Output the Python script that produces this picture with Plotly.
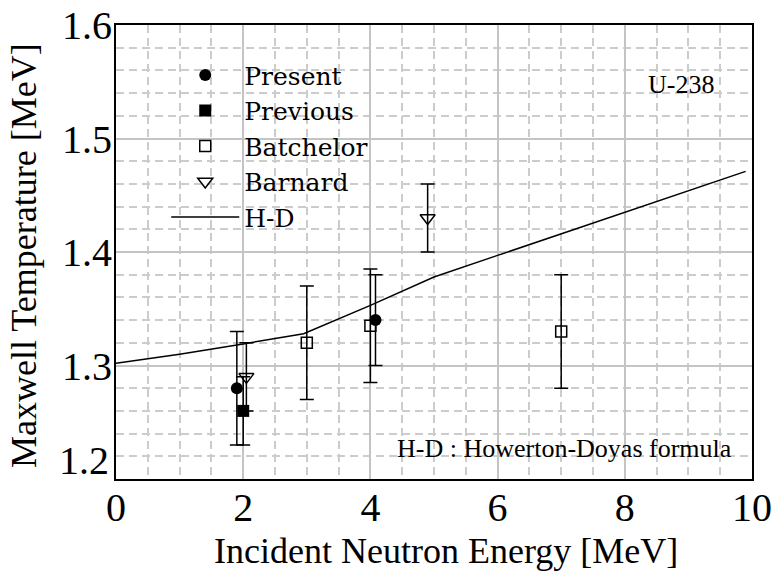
import plotly.graph_objects as go

# Maxwellian temperature of U-238 prompt fission neutrons vs. incident energy
present_e = [1.9, 4.08]
present_t = [1.28, 1.34]
present_err = [0.05, 0.04]

previous_e = [2.0]
previous_t = [1.26]
previous_err = [0.03]

batchelor_e = [3.0, 4.0, 7.0]
batchelor_t = [1.32, 1.335, 1.33]
batchelor_err = [0.05, 0.05, 0.05]

barnard_e = [2.05, 4.9]
barnard_t = [1.29, 1.43]
barnard_err = [0.03, 0.03]

# Howerton-Doyas systematics
hd_e = [0, 1, 2, 2.95, 4, 5, 6, 7, 8, 9, 9.9]
hd_t = [1.302, 1.310, 1.319, 1.328, 1.353, 1.378, 1.397, 1.416, 1.435, 1.454, 1.471]

# axis ticks; the lowest temperature label sits just above the frame corner
x_ticks = [0, 2, 4, 6, 8, 10]
y_ticks = [1.3, 1.4, 1.5, 1.6]
y_floor_label = "1.2"

FONT = "Times New Roman, Liberation Serif, serif"
LEGEND_FONT = "DejaVu Serif, Liberation Serif, serif"
INK = "black"
TICK_SIZE = 40


def err(vals):
    return dict(type="data", array=vals, visible=True, color=INK, thickness=1.5, width=7)


fig = go.Figure()
fig.add_trace(go.Scatter(
    x=present_e, y=present_t, mode="markers", name="Present",
    marker=dict(symbol="circle", size=12, color=INK),
    error_y=err(present_err)))
fig.add_trace(go.Scatter(
    x=previous_e, y=previous_t, mode="markers", name="Previous",
    marker=dict(symbol="square", size=12, color=INK),
    error_y=err(previous_err)))
fig.add_trace(go.Scatter(
    x=batchelor_e, y=batchelor_t, mode="markers", name="Batchelor",
    marker=dict(symbol="square-open", size=11, color=INK, line=dict(width=1.5)),
    error_y=err(batchelor_err)))
fig.add_trace(go.Scatter(
    x=barnard_e, y=barnard_t, mode="markers", name="Barnard",
    marker=dict(symbol="triangle-down-open", size=13, color=INK, line=dict(width=1.5)),
    error_y=err(barnard_err)))
fig.add_trace(go.Scatter(
    x=hd_e, y=hd_t, mode="lines", name="H-D",
    line=dict(color=INK, width=1.5)))

grid_solid = "#c4c4c4"
grid_dash = "#cccccc"

fig.update_layout(
    width=774, height=573,
    margin=dict(l=116, r=22, t=25, b=94, autoexpand=False),
    paper_bgcolor="white", plot_bgcolor="white",
    font=dict(family=FONT, color=INK),
    showlegend=True,
    legend=dict(
        x=0.079, y=0.94, xanchor="left", yanchor="top",
        bgcolor="rgba(0,0,0,0)", font=dict(family=LEGEND_FONT, size=25, color=INK),
        itemwidth=68, tracegroupgap=0,
    ),
    xaxis=dict(
        range=[0, 10], tickvals=x_ticks, automargin=False,
        showgrid=True, gridcolor=grid_solid, gridwidth=1.5,
        minor=dict(dtick=0.5, tick0=0, showgrid=True, gridcolor=grid_dash,
                   gridwidth=1.5, griddash="8px,5px"),
        showline=True, mirror=True, linecolor=INK, linewidth=2,
        ticks="", zeroline=False, ticklabelstandoff=-8,
        tickfont=dict(family=FONT, size=TICK_SIZE),
    ),
    yaxis=dict(
        range=[1.2, 1.6], tickvals=y_ticks, tickformat=".1f", automargin=False,
        showgrid=True, gridcolor=grid_solid, gridwidth=1.5,
        minor=dict(dtick=0.02, tick0=1.2, showgrid=True, gridcolor=grid_dash,
                   gridwidth=1.5, griddash="8px,5px"),
        showline=True, mirror=True, linecolor=INK, linewidth=2,
        ticks="", zeroline=False, ticklabelstandoff=-6,
        tickfont=dict(family=FONT, size=TICK_SIZE),
    ),
    annotations=[
        dict(text=y_floor_label, x=0, y=1.2, xref="paper", yref="y",
             xanchor="right", yanchor="bottom", xshift=-5, yshift=-6,
             showarrow=False, font=dict(family=FONT, size=TICK_SIZE, color=INK)),
        dict(text="Incident Neutron Energy [MeV]", x=0.519, y=-0.159,
             xref="paper", yref="paper", xanchor="center", yanchor="middle",
             showarrow=False, font=dict(family=FONT, size=36, color=INK)),
        dict(text="Maxwell Temperature [MeV]", x=-0.145, y=0.493, textangle=-90,
             xref="paper", yref="paper", xanchor="center", yanchor="middle",
             showarrow=False, font=dict(family=FONT, size=36, color=INK)),
        dict(text="U-238", x=0.944, y=0.868, xref="paper", yref="paper",
             xanchor="right", yanchor="middle", showarrow=False,
             font=dict(family=FONT, size=26, color=INK)),
        dict(text="H-D : Howerton-Doyas formula", x=0.971, y=0.068,
             xref="paper", yref="paper", xanchor="right", yanchor="middle",
             showarrow=False, font=dict(family=FONT, size=26, color=INK)),
    ],
)

fig.write_html("out.html")
